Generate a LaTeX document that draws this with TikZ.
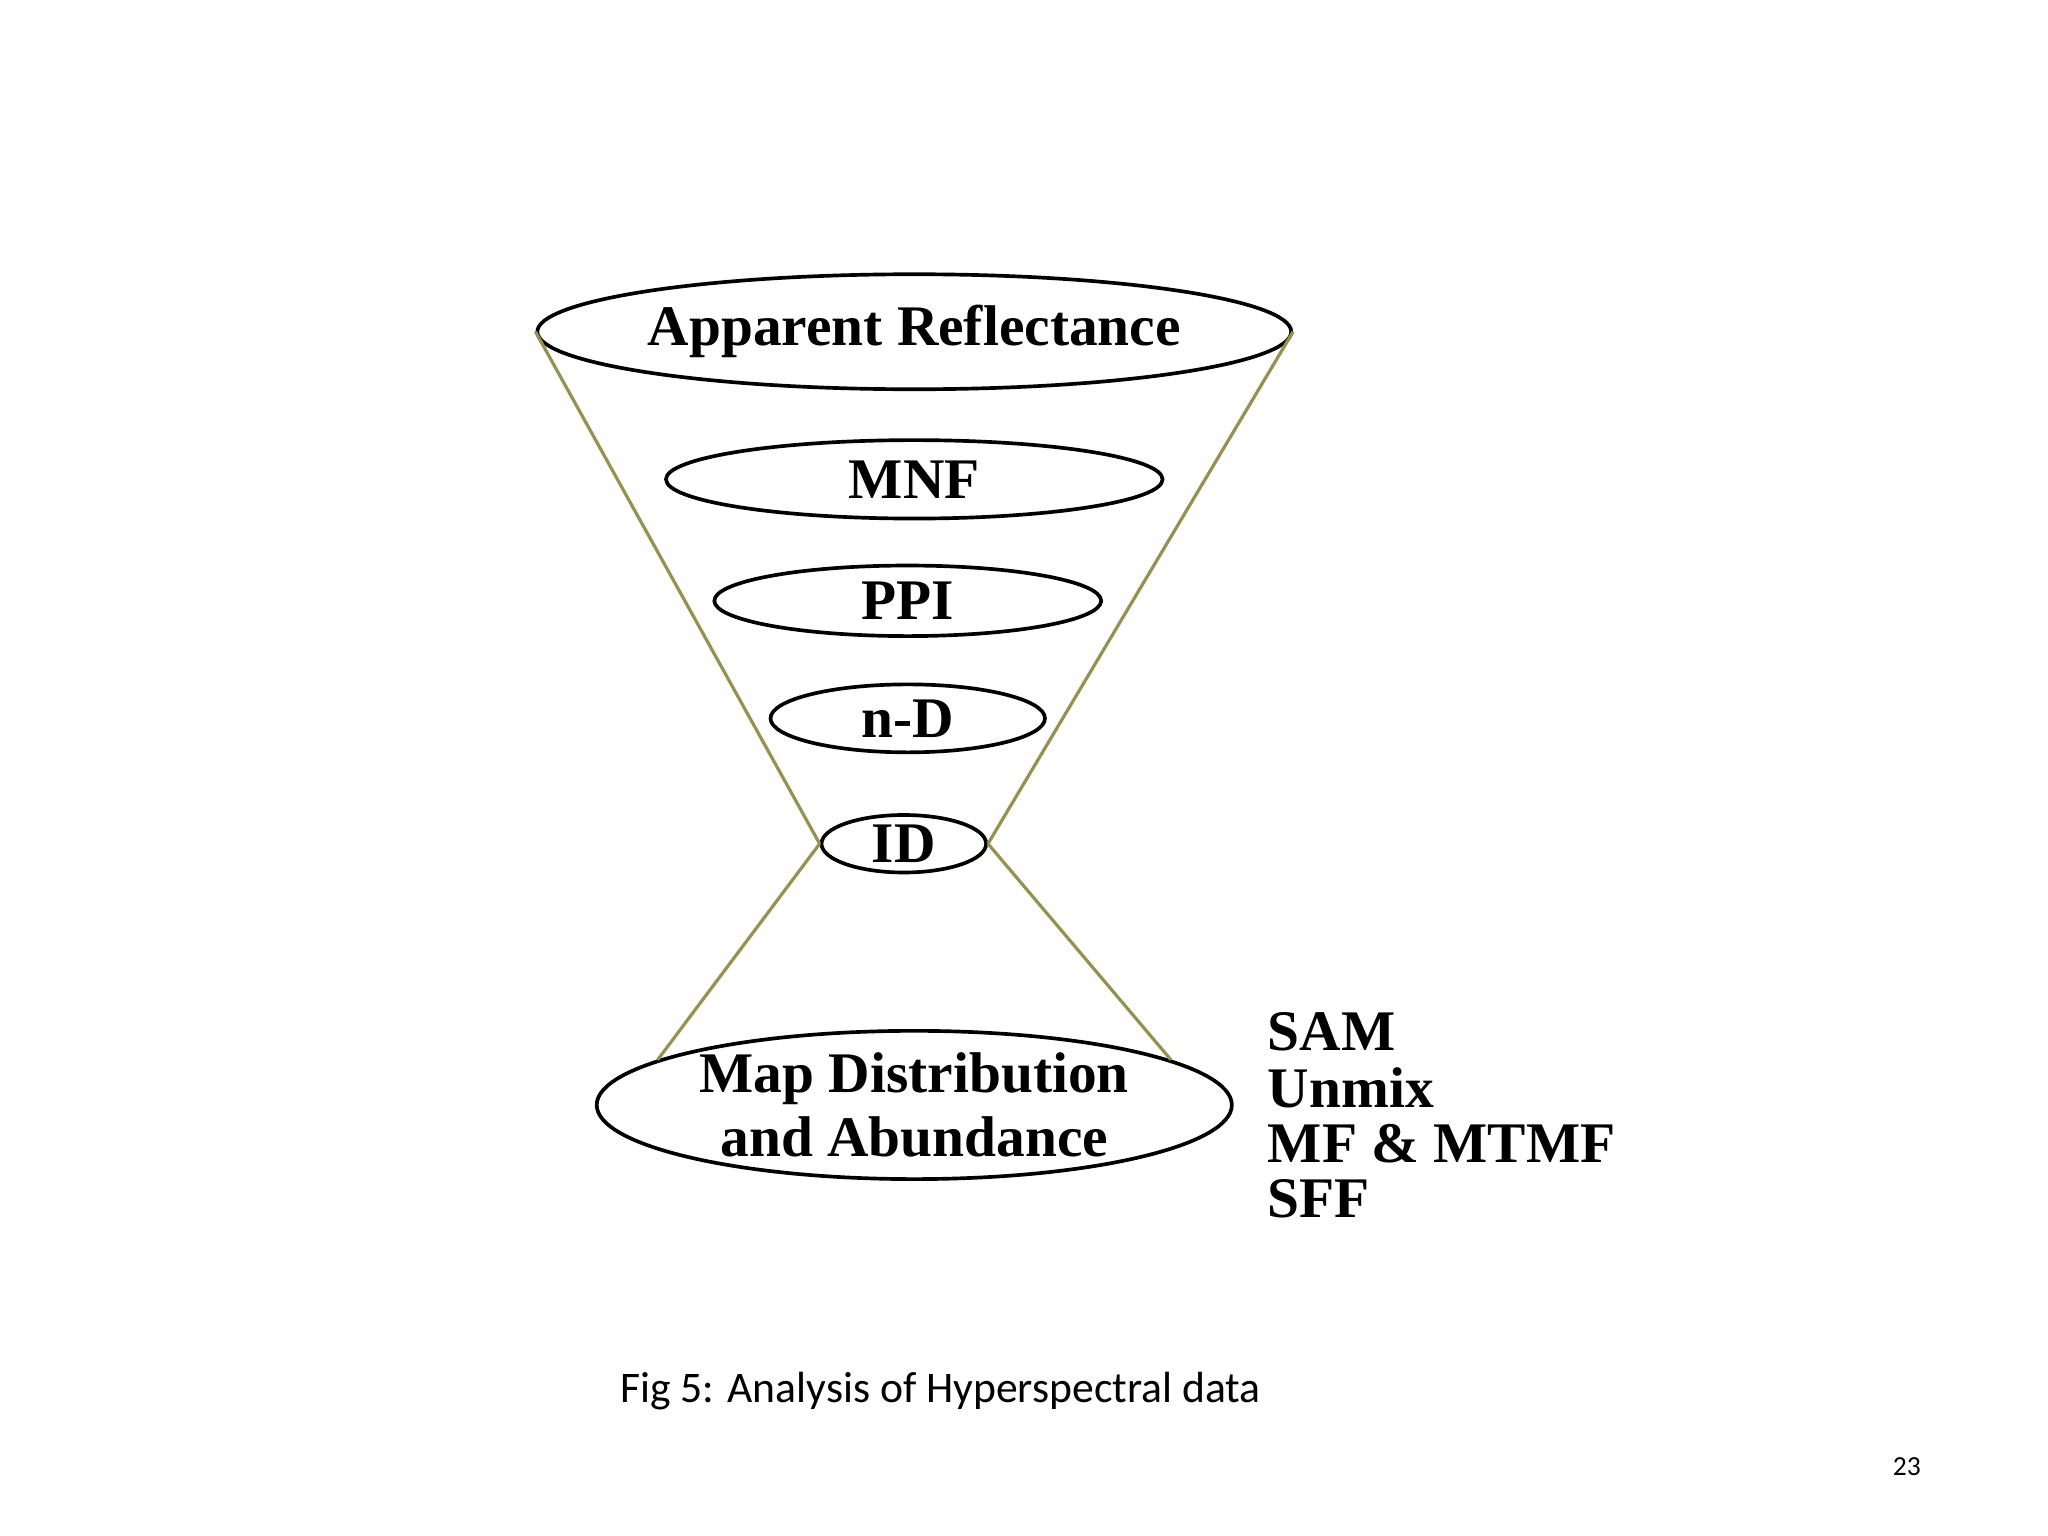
\documentclass[tikz,border=0pt]{standalone}
\usepackage{fontspec}
\setmainfont{Liberation Serif}
\newfontfamily\capfont{Carlito}
\usetikzlibrary{shapes.geometric}
\definecolor{cone}{RGB}{150,145,80}
\tikzset{
  ell/.style={ellipse,draw=black,line width=0.8pt,inner sep=0pt,font=\fontsize{12.5}{14}\selectfont\bfseries,align=center},
  conel/.style={draw=cone,line width=0.7pt},
  lst/.style={anchor=west,font=\fontsize{12.5}{14}\selectfont\bfseries,inner sep=0pt}
}
\begin{document}
\begin{tikzpicture}[x=0.01cm,y=-0.01cm]
\useasboundingbox (0,0) rectangle (1568,1176);
\node[ell,minimum width=4.86cm,minimum height=0.88cm] (ar) at (700,254) {Apparent Reflectance};
\node[ell,minimum width=3.8cm,minimum height=0.6cm] (mnf) at (700,367) {MNF};
\node[ell,minimum width=2.96cm,minimum height=0.54cm] (ppi) at (695,460) {PPI};
\node[ell,minimum width=2.1cm,minimum height=0.52cm] (nd) at (695,550) {n-D};
\node[ell,minimum width=1.26cm,minimum height=0.44cm] (id) at (692,646) {ID};
\node[ell,minimum width=4.86cm,minimum height=0.88cm] (map) at (700,846) {Map Distribution\\and Abundance};
\draw[conel] (ar.west) -- (id.west);
\draw[conel] (ar.east) -- (id.east);
\draw[conel] (id.west) -- (map.170);
\draw[conel] (id.east) -- (map.10);
\node[lst] (l1) at (970,790) {SAM};
\node[lst] (l2) at (970,833) {Unmix};
\node[lst] (l3) at (970,876) {MF \& MTMF};
\node[lst] (l4) at (970,918) {SFF};
\node[font=\capfont\fontsize{9.5}{11}\selectfont] (cap) at (720,1065) {Fig 5: Analysis of Hyperspectral data};
\node[font=\capfont\fontsize{6}{7}\selectfont] (pg) at (1460,1123) {23};
\end{tikzpicture}
\end{document}
